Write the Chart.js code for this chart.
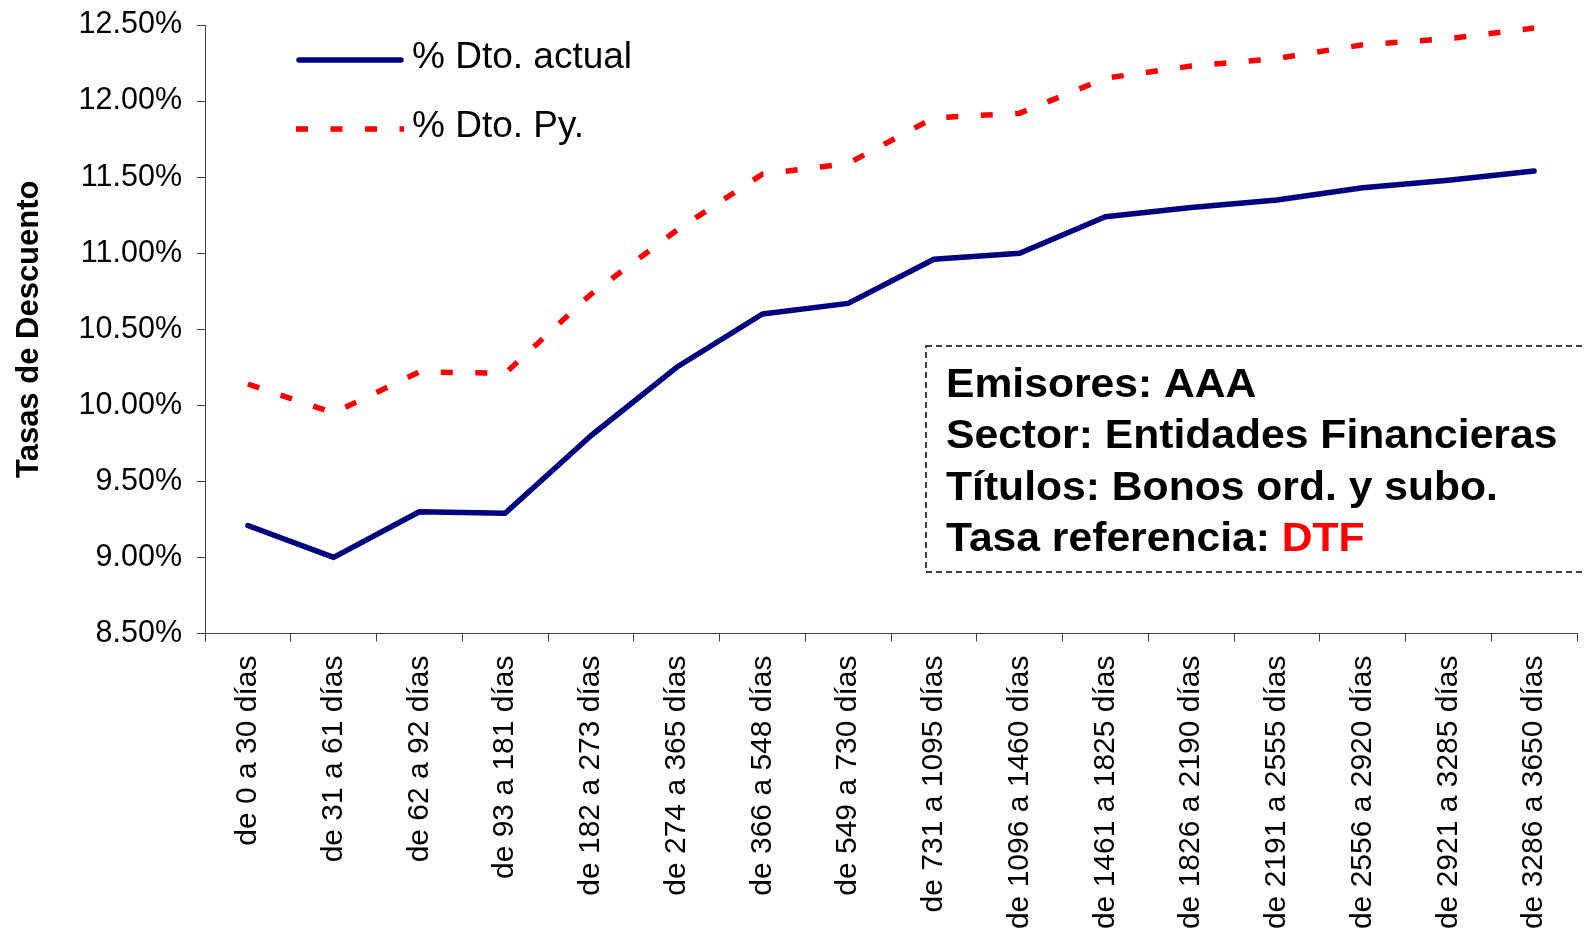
<!DOCTYPE html>
<html>
<head>
<meta charset="utf-8">
<title>Tasas de Descuento</title>
<script src="https://cdn.jsdelivr.net/npm/chart.js@4.4.0/dist/chart.umd.min.js"></script>
<style>
  html, body { margin: 0; padding: 0; background: #fff; }
  #wrap { width: 1585px; height: 937px; }
</style>
</head>
<body>
<div id="wrap"><canvas id="chart" width="1585" height="937"></canvas></div>
<script>
// categories (plazos)
const categories = [
  'de 0 a 30 días', 'de 31 a 61 días', 'de 62 a 92 días', 'de 93 a 181 días',
  'de 182 a 273 días', 'de 274 a 365 días', 'de 366 a 548 días', 'de 549 a 730 días',
  'de 731 a 1095 días', 'de 1096 a 1460 días', 'de 1461 a 1825 días', 'de 1826 a 2190 días',
  'de 2191 a 2555 días', 'de 2556 a 2920 días', 'de 2921 a 3285 días', 'de 3286 a 3650 días'
];

// series values, in percent
const dtoActual = [9.21, 9.00, 9.30, 9.29, 9.80, 10.25, 10.60, 10.67, 10.96, 11.00, 11.24, 11.30, 11.35, 11.43, 11.48, 11.54];
const dtoPy = [10.14, 9.95, 10.22, 10.21, 10.73, 11.15, 11.52, 11.59, 11.89, 11.92, 12.15, 12.23, 12.28, 12.37, 12.41, 12.48];

const seriesNames = ['% Dto. actual', '% Dto. Py.'];
const yMin = 8.5;
const yMax = 12.5;
const yStep = 0.5;
const yTitle = 'Tasas de Descuento';

// text box
const boxLines = ['Emisores: AAA', 'Sector: Entidades Financieras', 'Títulos: Bonos ord. y subo.', 'Tasa referencia: '];
const boxHighlight = 'DTF';

const FONT = '"Liberation Sans", Arial, Helvetica, sans-serif';
const AXIS = '#404040';

// draws the legend in the top left and the dashed info box
const overlay = {
  id: 'overlay',
  afterDraw(chart) {
    const ctx = chart.ctx;
    const area = chart.chartArea;
    ctx.save();

    // legend
    chart.data.datasets.forEach((ds, i) => {
      const y = area.top + 35 + i * 69;
      const round = ds.borderCapStyle === 'round';
      ctx.beginPath();
      ctx.strokeStyle = ds.borderColor;
      ctx.lineWidth = ds.borderWidth;
      ctx.lineCap = ds.borderCapStyle || 'butt';
      ctx.setLineDash(ds.borderDash || []);
      ctx.moveTo(area.left + (round ? 94 : 91), y);
      ctx.lineTo(area.left + (round ? 196 : 199), y);
      ctx.stroke();
      ctx.setLineDash([]);
      ctx.fillStyle = '#000';
      ctx.font = '37px ' + FONT;
      ctx.textAlign = 'left';
      ctx.textBaseline = 'alphabetic';
      ctx.fillText(ds.label, area.left + 207, y + 8);
    });

    // dashed box, runs off the right edge
    ctx.beginPath();
    ctx.setLineDash([6, 4]);
    ctx.lineWidth = 1.5;
    ctx.strokeStyle = '#000';
    ctx.rect(926, 346, 720, 226);
    ctx.stroke();
    ctx.setLineDash([]);

    // box text, a little wider than the plain bold face
    ctx.translate(946, 0);
    ctx.scale(1.04, 1);
    ctx.font = 'bold 41px ' + FONT;
    ctx.fillStyle = '#000';
    boxLines.forEach((line, i) => {
      const y = 397 + i * 51.3;
      ctx.fillText(line, 0, y);
      if (i === boxLines.length - 1) {
        const w = ctx.measureText(line).width;
        ctx.fillStyle = '#FF0000';
        ctx.fillText(boxHighlight, w, y);
        ctx.fillStyle = '#000';
      }
    });

    ctx.restore();
  }
};

new Chart(document.getElementById('chart'), {
  type: 'line',
  data: {
    labels: categories,
    datasets: [
      {
        label: seriesNames[0],
        data: dtoActual,
        borderColor: '#000080',
        borderWidth: 5.5,
        borderCapStyle: 'round',
        borderJoinStyle: 'round',
        pointRadius: 0,
        tension: 0,
        fill: false
      },
      {
        label: seriesNames[1],
        data: dtoPy,
        borderColor: '#FF0000',
        borderWidth: 5.5,
        borderDash: [12, 22.5],
        borderCapStyle: 'butt',
        pointRadius: 0,
        tension: 0,
        fill: false
      }
    ]
  },
  options: {
    responsive: false,
    devicePixelRatio: 1,
    animation: false,
    layout: { padding: { top: 25, right: 8, bottom: 0, left: 0 } },
    plugins: {
      legend: { display: false },
      tooltip: { enabled: false }
    },
    scales: {
      x: {
        type: 'category',
        offset: true,
        grid: { offset: true, drawOnChartArea: false, drawTicks: true, tickLength: 8, color: AXIS, lineWidth: 1 },
        border: { display: true, color: AXIS, width: 1 },
        ticks: {
          autoSkip: false,
          minRotation: 90,
          maxRotation: 90,
          padding: 14,
          color: '#000',
          font: { family: FONT, size: 30 }
        },
        afterFit(scale) { scale.height = 937 - 633.5; }
      },
      y: {
        min: yMin,
        max: yMax,
        grid: { drawOnChartArea: false, drawTicks: true, tickLength: 8, color: AXIS, lineWidth: 1 },
        border: { display: true, color: AXIS, width: 1 },
        ticks: {
          stepSize: yStep,
          padding: 15,
          color: '#000',
          font: { family: FONT, size: 30.5 },
          callback: (v) => Number(v).toFixed(2) + '%'
        },
        title: {
          display: true,
          text: yTitle,
          color: '#000',
          font: { family: FONT, size: 31, weight: 'bold' },
          padding: { top: 11, bottom: 0 }
        },
        afterFit(scale) {
          scale.width = 205;
          scale.paddingTop = 0;
          scale.paddingBottom = 0;
        }
      }
    }
  },
  plugins: [overlay]
});
</script>
</body>
</html>
